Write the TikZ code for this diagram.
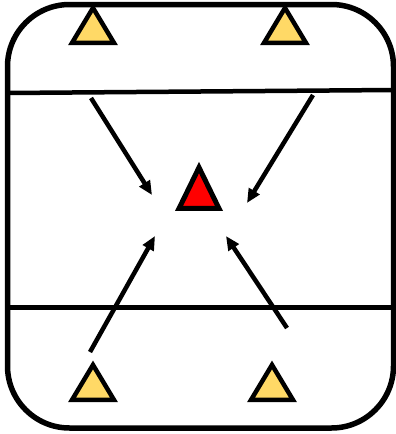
\documentclass[tikz,border=0pt]{standalone}
\definecolor{coneyellow}{RGB}{255,217,102}
\definecolor{conered}{RGB}{255,0,0}
\usepackage{tikz}
\usetikzlibrary{shapes,arrows.meta,calc}
\usepackage{xcolor}

\begin{document}
\begin{tikzpicture}[x=1pt,y=-1pt,
    cone/.style={draw=black,line width=4.5pt,fill=coneyellow,isosceles triangle,
                 isosceles triangle stretches,shape border rotate=90,
                 minimum width=42pt,minimum height=35pt,inner sep=0pt},
    target/.style={cone,fill=conered,line width=5pt,minimum width=40pt,minimum height=41pt},
    move/.style={line width=4.5pt,-{Triangle[length=14pt,width=12pt]}}]
    \useasboundingbox (0,0) rectangle (396,434);
    % pitch
    \draw[line width=5.5pt,rounded corners=62pt] (7.5,4.5) rectangle (393.5,428);
    \draw[line width=4.5pt] (7.5,93) -- (393.5,90);
    \draw[line width=4.5pt] (7.5,307.5) -- (393.5,307.5);
    % cones
    \node[cone] (c1) at (93,31) {};
    \node[cone] (c2) at (285,31) {};
    \node[cone] (c3) at (93,388) {};
    \node[cone] (c4) at (272,388) {};
    \node[target] (mid) at (199,196) {};
    % runs
    \coordinate (s1) at (91,98);   \coordinate (e1) at (152,195);
    \coordinate (s2) at (313,95);  \coordinate (e2) at (247,203);
    \coordinate (s3) at (90,352);  \coordinate (e3) at (155,236);
    \coordinate (s4) at (287,328); \coordinate (e4) at (226,236);
    \draw[move] (s1) -- (e1);
    \draw[move] (s2) -- (e2);
    \draw[move] (s3) -- (e3);
    \draw[move] (s4) -- (e4);
\end{tikzpicture}
\end{document}
